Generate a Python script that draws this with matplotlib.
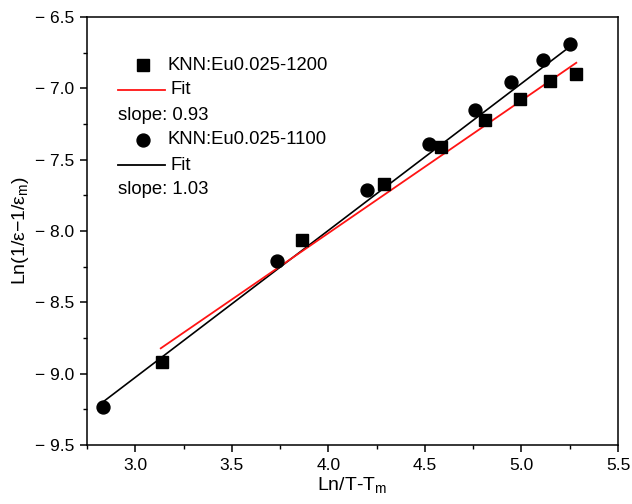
import matplotlib
matplotlib.use("Agg")
import matplotlib.pyplot as plt
import numpy as np
from matplotlib.ticker import MultipleLocator, FuncFormatter

plt.rcParams['font.family'] = ['Liberation Sans', 'DejaVu Sans']
plt.rcParams['mathtext.fontset'] = 'custom'
plt.rcParams['mathtext.rm'] = 'Liberation Sans'
plt.rcParams['mathtext.it'] = 'Liberation Sans'

# Data: KNN:Eu0.025-1200 (squares)
x_1200 = [3.137, 3.865, 4.288, 4.582, 4.809, 4.995, 5.149, 5.283]
y_1200 = [-8.915, -8.066, -7.668, -7.411, -7.222, -7.075, -6.949, -6.900]
# Data: KNN:Eu0.025-1100 (circles)
x_1100 = [2.833, 3.736, 4.200, 4.520, 4.757, 4.948, 5.113, 5.253]
y_1100 = [-9.233, -8.210, -7.712, -7.390, -7.152, -6.955, -6.801, -6.689]

# Linear fits
fit_1200_slope, fit_1200_intercept = 0.93, -11.735
fit_1200_xrange = [3.132, 5.284]
fit_1100_slope, fit_1100_intercept = 1.03, -12.116
fit_1100_xrange = [2.833, 5.227]

legend_labels = ["KNN:Eu0.025-1200", "Fit", "slope: 0.93",
                 "KNN:Eu0.025-1100", "Fit", "slope: 1.03"]

RED = '#ff1414'
W, H = 632, 504
fig = plt.figure(figsize=(W / 100, H / 100), dpi=100)
ax = fig.add_axes([87 / W, 1 - 445 / H, 531 / W, 428 / H])

fx1 = np.array(fit_1200_xrange)
fx2 = np.array(fit_1100_xrange)
ax.plot(fx2, fit_1100_slope * fx2 + fit_1100_intercept, color='black', lw=1.2, zorder=2)
ax.plot(fx1, fit_1200_slope * fx1 + fit_1200_intercept, color=RED, lw=1.3, zorder=2)
ax.plot(x_1200, y_1200, 's', color='black', ms=9.3, zorder=3)
ax.plot(x_1100, y_1100, 'o', color='black', ms=9.3, zorder=3)

ax.set_xlim(2.75, 5.5)
ax.set_ylim(-9.5, -6.5)
ax.xaxis.set_major_locator(MultipleLocator(0.5))
ax.xaxis.set_minor_locator(MultipleLocator(0.25))
ax.yaxis.set_major_locator(MultipleLocator(0.5))
ax.yaxis.set_minor_locator(MultipleLocator(0.25))
ax.yaxis.set_major_formatter(FuncFormatter(lambda v, p: "\u2212 %.1f" % abs(v) if v < 0 else "%.1f" % v))
ax.xaxis.set_major_formatter(FuncFormatter(lambda v, p: "%.1f" % v))
ax.tick_params(axis='both', which='major', direction='out', length=5, width=1.1, labelsize=12.5, pad=4)
ax.tick_params(axis='both', which='minor', direction='out', length=3, width=1.0)
ax.tick_params(top=False, right=False, which='both')
for s in ax.spines.values():
    s.set_linewidth(1.1)

ax.set_xlabel("Ln/T-T$_\\mathregular{m}$", fontsize=14, labelpad=2)
ax.set_ylabel("Ln(1/\u03b5\u22121/\u03b5$_\\mathregular{m}$)", fontsize=14, labelpad=3)

# Manual legend drawn in figure pixel space
def fxy(px, py):
    return px / W, 1 - py / H

rows_y = [65, 90, 115, 140, 165, 190]
kinds = ['s', RED, None, 'o', 'black', None]
for lab, ry, kind in zip(legend_labels, rows_y, kinds):
    if kind in ('s', 'o'):
        x0, y0 = fxy(143, ry)
        fig.lines.append(plt.Line2D([x0], [y0], marker=kind, color='black', ms=9.3,
                                    transform=fig.transFigure, figure=fig))
        tx = 168
    elif kind is not None:
        xa, ya = fxy(118, ry)
        xb, _ = fxy(165, ry)
        fig.lines.append(plt.Line2D([xa, xb], [ya, ya], color=kind, lw=1.3,
                                    transform=fig.transFigure, figure=fig))
        tx = 170
    else:
        tx = 118
    x0, y0 = fxy(tx, ry)
    fig.text(x0, y0, lab, fontsize=13.3, ha='left', va='center')

fig.savefig("out.png", dpi=100)
